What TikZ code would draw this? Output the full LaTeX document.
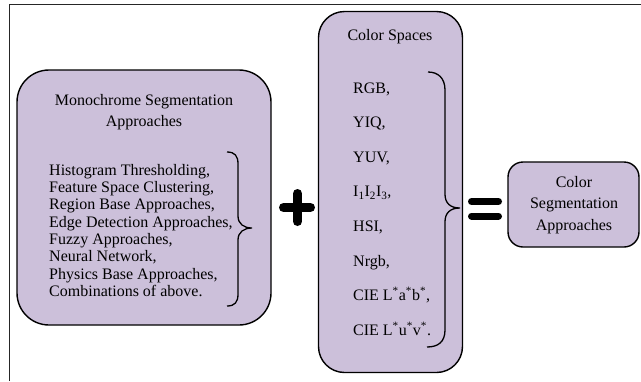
\documentclass[tikz,border=0pt]{standalone}
\usepackage{fontspec}
\setmainfont{Liberation Serif}
\definecolor{boxfill}{HTML}{CCC0DA}
\begin{document}
\begin{tikzpicture}[x=1pt,y=-1pt,
  box/.style={draw=black, line width=1.4pt, fill=boxfill, inner sep=0pt},
  txt/.style={inner sep=0pt, font=\fontsize{16}{17.3}\selectfont},
  brace/.style={draw=black, line width=1.3pt},
  sign/.style={line width=9pt, line cap=round}]
\useasboundingbox (0,0) rectangle (641,381);
% frame
\draw[line width=1.5pt, black!85] (9.5,381) -- (9.5,4.5) -- (641,4.5);
% boxes
\node[box, rounded corners=32pt, minimum width=254pt, minimum height=255pt] (mono) at (144,197.5) {};
\node[box, rounded corners=26pt, minimum width=144pt, minimum height=361pt] (cs) at (390.5,192) {};
\node[box, rounded corners=15pt, minimum width=131pt, minimum height=85pt] (res) at (573.5,204.5) {};
% texts
\node[txt, align=center, font=\fontsize{16}{21}\selectfont] (monot) at (144,112) {Monochrome Segmentation\\Approaches};
\node[txt, align=left, anchor=west] (monol) at (49,230.5) {Histogram Thresholding,\\Feature Space Clustering,\\Region Base Approaches,\\Edge Detection Approaches,\\Fuzzy Approaches,\\Neural Network,\\Physics Base Approaches,\\Combinations of above.};
\node[txt] (cst) at (390,37) {Color Spaces};
\node[txt, align=left, anchor=west, font=\fontsize{16}{34.6}\selectfont] (csl) at (353,209) {RGB,\\YIQ,\\YUV,\\I\textsubscript{1}I\textsubscript{2}I\textsubscript{3},\\HSI,\\Nrgb,\\CIE L\textsuperscript{*}a\textsuperscript{*}b\textsuperscript{*},\\CIE L\textsuperscript{*}u\textsuperscript{*}v\textsuperscript{*}.};
\node[txt, align=center, font=\fontsize{16}{21.5}\selectfont] (rest) at (574,205) {Color\\Segmentation\\Approaches};
% braces
\draw[brace] (227,152) .. controls (235,152) and (238,156) .. (238,164)
  -- (238,216) .. controls (238,224) and (244,228) .. (252,228)
  .. controls (244,228) and (238,232) .. (238,240)
  -- (238,294) .. controls (238,302) and (235,306) .. (227,306);
\draw[brace] (428,72) .. controls (438,72) and (445,78) .. (445,90)
  -- (445,194) .. controls (445,203) and (450,208) .. (460,208)
  .. controls (450,208) and (445,213) .. (445,222)
  -- (445,330) .. controls (445,342) and (438,347) .. (427,347);
% plus and equals
\draw[sign] (283.5,207.5) -- (310.5,207.5);
\draw[sign] (297.5,193.5) -- (297.5,221.5);
\draw[sign, line width=7pt] (471.5,201.5) -- (498.5,201.5);
\draw[sign, line width=7pt] (471.5,216) -- (498.5,216);
\end{tikzpicture}
\end{document}
